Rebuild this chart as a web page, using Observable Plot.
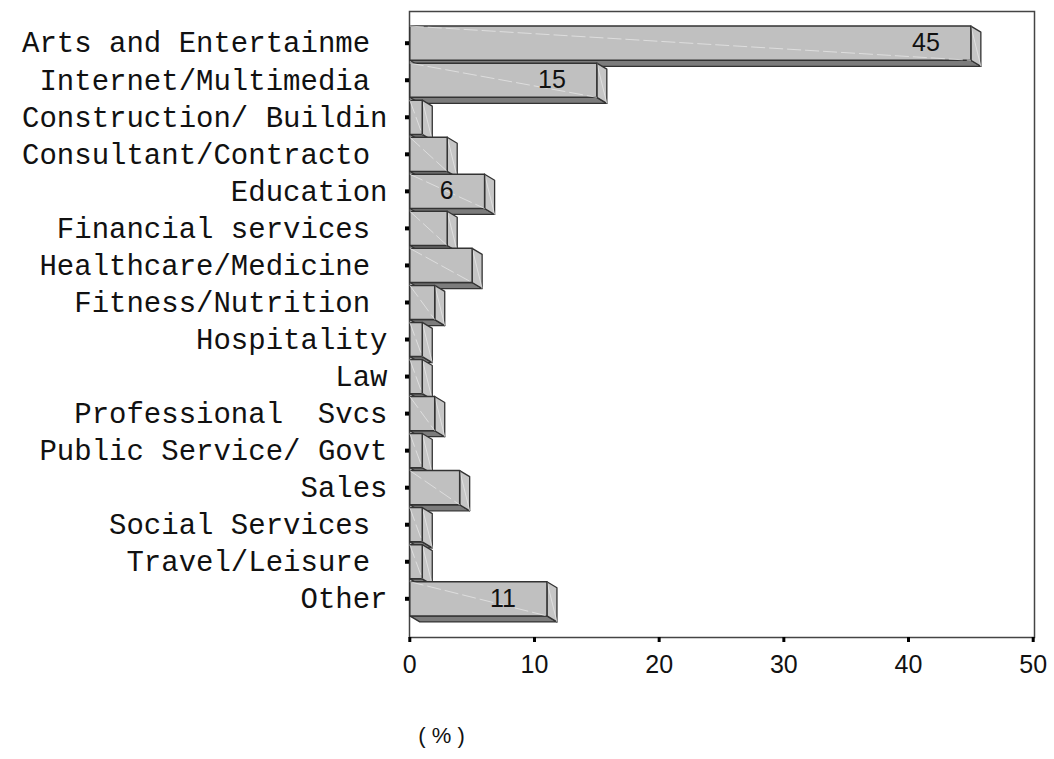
<!DOCTYPE html>
<html>
<head>
<meta charset="utf-8">
<script src="https://cdn.jsdelivr.net/npm/d3@7"></script>
<script src="https://cdn.jsdelivr.net/npm/@observablehq/plot@0.6"></script>
<style>
  html, body { margin: 0; padding: 0; background: #fff; }
  #chart svg { display: block; }
</style>
</head>
<body>
<div id="chart"></div>
<script>
// Industry categories (top to bottom) and their share of respondents, in percent.
const categories = [
  "Arts and Entertainme\u00a0",
  "Internet/Multimedia\u00a0",
  "Construction/ Buildin",
  "Consultant/Contracto\u00a0",
  "Education",
  "Financial services\u00a0",
  "Healthcare/Medicine\u00a0",
  "Fitness/Nutrition\u00a0",
  "Hospitality",
  "Law",
  "Professional  Svcs",
  "Public Service/ Govt",
  "Sales",
  "Social Services\u00a0",
  "Travel/Leisure\u00a0",
  "Other"
];
const percents = [45, 15, 1, 3, 6, 3, 5, 2, 1, 1, 2, 1, 4, 1, 1, 11];
const xTicks = [0, 10, 20, 30, 40, 50];
const axisLabel = "( % )";

// Rows: index i is the category's position from the top.
const rows = categories.map((name, i) => ({i, name, value: percents[i]}));

// Pixel geometry of the plot frame and scales.
const W = 1054, H = 759;
const X0 = 409.3, X50 = 1032.7;         // pixel range for 0..50 %
const rowStep = 37.04;                  // pixel height of one category row
const firstRow = 42.7;                  // pixel centre of the first row
const pxPerUnit = (X50 - X0) / 50;

// Extruded-bar look: half-height of the front face and the depth offset.
const half = 17.1 / rowStep;            // in row units
const DX = 10 / pxPerUnit;              // depth, in % units
const DY = 6 / rowStep;                 // depth, in row units

const fronts = [], sides = [], bottoms = [];
const frontDiag = [], sideDiag = [];
for (const r of rows) {
  const t = r.i - half, b = r.i + half, v = r.value;
  const poly = (arr, pts) => pts.forEach(([x, y]) => arr.push({id: r.i, x, y}));
  poly(fronts, [[0, t], [v, t], [v, b], [0, b], [0, t]]);
  poly(sides, [[v, t], [v + DX, t + DY], [v + DX, b + DY], [v, b], [v, t]]);
  poly(bottoms, [[0, b], [v, b], [v + DX, b + DY], [DX, b + DY], [0, b]]);
  frontDiag.push({x1: 0, y1: t, x2: v, y2: b});
  sideDiag.push({x1: v, y1: t, x2: v + DX, y2: b + DY});
}

const faceStroke = "#333";
const chart = Plot.plot({
  width: W,
  height: H,
  marginLeft: 409,
  marginRight: 20,
  marginTop: 11,
  marginBottom: 122,
  style: {background: "#fff"},
  x: {domain: [0, 50], range: [X0, X50]},
  y: {domain: [-0.5, 15.5],
      range: [firstRow - rowStep / 2, firstRow + rowStep * 15.5]},
  marks: [
    Plot.frame({stroke: "#444", strokeWidth: 1.5}),
    // bottom faces
    Plot.line(bottoms, {x: "x", y: "y", z: "id", fill: "#7c7c7c",
      stroke: faceStroke, strokeWidth: 1.3, strokeLinejoin: "round"}),
    // side faces
    Plot.line(sides, {x: "x", y: "y", z: "id", fill: "#c6c6c6",
      stroke: faceStroke, strokeWidth: 1.3, strokeLinejoin: "round"}),
    Plot.link(sideDiag, {x1: "x1", y1: "y1", x2: "x2", y2: "y2",
      stroke: "#e6e6e6", strokeWidth: 0.8}),
    // front faces
    Plot.line(fronts, {x: "x", y: "y", z: "id", fill: "#c0c0c0",
      stroke: faceStroke, strokeWidth: 1.5, strokeLinejoin: "round"}),
    Plot.link(frontDiag, {x1: "x1", y1: "y1", x2: "x2", y2: "y2",
      stroke: "#e4e4e4", strokeWidth: 0.8, strokeDasharray: "14,4"}),
    // value labels on the larger bars
    Plot.text(rows.filter(d => d.value >= 6), {
      x: "value", y: "i", text: d => String(d.value),
      textAnchor: "end", dx: -31,
      fontSize: 25, fontFamily: "Liberation Sans, Arial, sans-serif",
      fill: "#111"
    }),
    // category axis
    Plot.axisY({
      ticks: d3.range(categories.length),
      tickFormat: i => categories[i],
      tickSize: 4, tickPadding: 18,
      stroke: "#000", strokeWidth: 4,
      fontSize: 29, fontFamily: "'Courier New', 'Liberation Mono', monospace",
      fill: "#111"
    }),
    // percent axis
    Plot.axisX({
      ticks: xTicks,
      tickFormat: d => String(d),
      tickSize: 5, tickPadding: 13,
      stroke: "#000", strokeWidth: 3,
      fontSize: 25, fontFamily: "Liberation Sans, Arial, sans-serif",
      fill: "#111",
      label: null
    }),
    Plot.text([axisLabel], {
      frameAnchor: "bottom-left", dx: 32, dy: 105,
      text: d => d, textAnchor: "middle",
      fontSize: 22, fontFamily: "Liberation Sans, Arial, sans-serif",
      fill: "#111"
    })
  ]
});
document.getElementById("chart").append(chart);
</script>
</body>
</html>
